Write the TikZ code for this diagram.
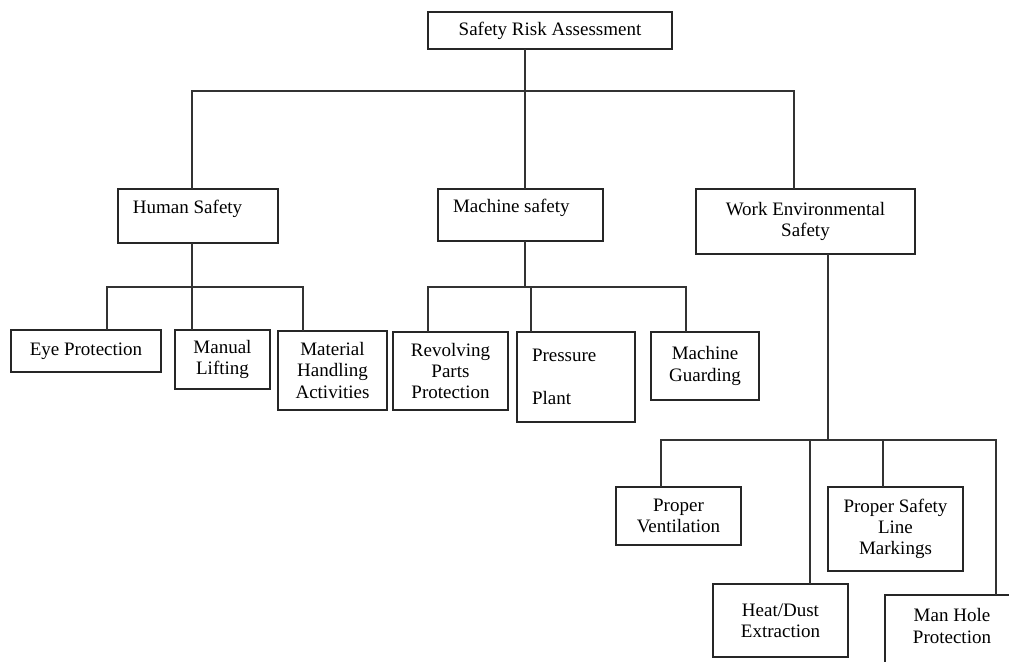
\documentclass[tikz,border=0pt]{standalone}
\usepackage{fontspec}
\setmainfont{Liberation Serif}
\usetikzlibrary{calc}

\begin{document}
\begin{tikzpicture}[x=0.5pt, y=-0.5pt, outer sep=0pt,
  box/.style={draw=black!85, line width=0.8pt, inner sep=2pt, align=center,
    font=\fontsize{9.5pt}{10.6pt}\selectfont},
  lbox/.style={align=left, inner xsep=7.5pt},
  link/.style={draw=black!80, line width=0.8pt}]

\clip (0,0) rectangle (1009,662);

\node[box, minimum width=122pt, minimum height=18.5pt] at (550, 30.5) (root) {Safety Risk Assessment};

\node[box, lbox, text width=65pt, minimum height=27pt] at (198, 216) (hs) {\spaceskip=0pt Human Safety\\[-1pt]\mbox{}};
\node[box, lbox, text width=67.5pt, minimum height=26pt] at (520.5, 215) (ms) {\spaceskip=0pt Machine safety\\[-1pt]\mbox{}};
\node[box, minimum width=109.5pt, minimum height=32.5pt] at (805.5, 221.5) (we) {Work Environmental\\Safety};

\node[box, minimum width=75pt, minimum height=21pt] at (86, 351) (eye) {Eye Protection};
\node[box, minimum width=47.5pt, minimum height=29.5pt] at (222.5, 359.5) (lift) {Manual\\Lifting};
\node[box, minimum width=54.5pt, minimum height=39.5pt] at (332.5, 370.5) (mat) {Material\\Handling\\Activities};

\node[box, minimum width=57.5pt, minimum height=39pt] at (450.5, 371) (rev) {Revolving\\Parts\\Protection};
\node[box, lbox, text width=44pt, minimum height=45pt] at (576, 377) (pre) {Pressure\\[11pt]Plant};
\node[box, minimum width=54pt, minimum height=34pt] at (705, 366) (mg) {Machine\\Guarding};

\node[box, minimum width=62.5pt, minimum height=29pt] at (678.5, 516) (pv) {Proper\\Ventilation};
\node[box, minimum width=67.5pt, minimum height=36.5pt] at (780.5, 620.5) (hd) {Heat/Dust\\Extraction};
\node[box, minimum width=67.5pt, minimum height=42pt] at (895.5, 529) (psl) {Proper Safety\\Line\\Markings};
\node[box, minimum width=67pt, minimum height=37.5pt] at (952, 632.5) (mh) {Man Hole\\Protection\\[-4pt]\mbox{}};

\coordinate (j0) at (525, 91);
\coordinate (j1) at (192, 287);
\coordinate (j2) at (525, 287);
\coordinate (j3) at (828, 440);

\draw[link] (root.south -| j0) -- (j0);
\draw[link] ($(hs.north)+(-6,0)$) |- (j0) -| ($(we.north)+(-11.5,0)$);
\draw[link] (ms.north -| j0) -- (j0);

\draw[link] (hs.south -| j1) -- (j1);
\draw[link] ($(eye.north)+(21,0)$) |- (j1) -| ($(mat.north)+(-29.5,0)$);
\draw[link] (lift.north -| j1) -- (j1);

\draw[link] (ms.south -| j2) -- (j2);
\draw[link] ($(rev.north)+(-22.5,0)$) |- (j2) -| ($(mg.north)+(-19,0)$);
\draw[link] ($(pre.north)+(-45,0)$) |- (j2);

\draw[link] (we.south -| j3) -- (j3);
\draw[link] ($(pv.north)+(-17.5,0)$) |- (j3) -| ($(mh.north)+(44,0)$);
\draw[link] ($(hd.north)+(29.5,0)$) |- (j3);
\draw[link] ($(psl.north)+(-12.5,0)$) |- (j3);
\end{tikzpicture}
\end{document}
